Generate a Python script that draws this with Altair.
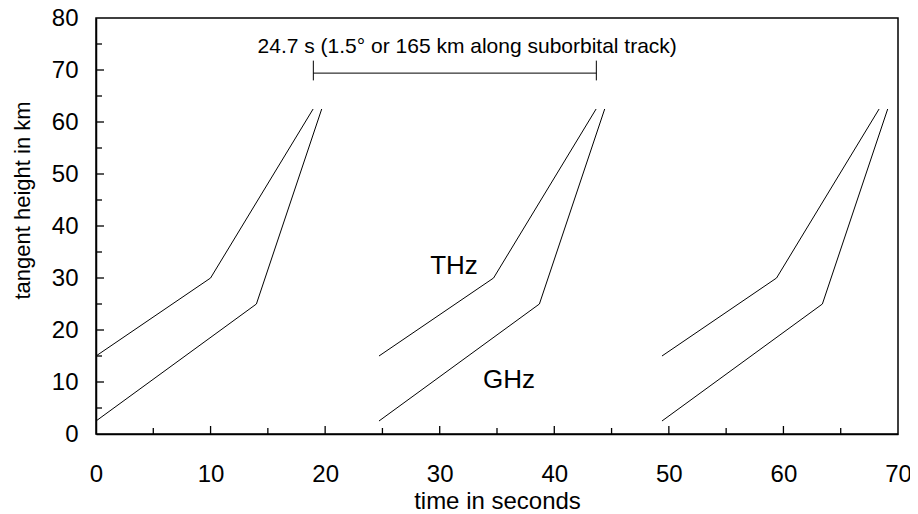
import altair as alt
import pandas as pd

# sweep line data (time s, tangent height km)
sweep = [1, 1, 1, 1, 1, 1, 2, 2, 2, 2, 2, 2, 3, 3, 3, 3, 3, 3]
band = ["THz", "THz", "THz", "GHz", "GHz", "GHz"] * 3
t_vals = [0.0, 10.0, 18.95, 0.0, 14.0, 19.7,
          24.7, 34.7, 43.65, 24.7, 38.7, 44.4,
          49.4, 59.4, 68.35, 49.4, 63.4, 69.1]
h_vals = [15.0, 30.0, 62.5, 2.5, 25.0, 62.5] * 3

# scale bar
bar_x = [18.97]
bar_x2 = [43.67]
bar_y = [69.4]
cap_x = [18.97, 43.67]
cap_y_lo = [68.0, 68.0]
cap_y_hi = [71.8, 71.8]
bar_text = ["24.7 s (1.5° or 165 km along suborbital track)"]
bar_text_x = [32.4]
bar_text_y = [73.2]

# band labels
lab_text = ["THz", "GHz"]
lab_x = [31.25, 36.05]
lab_y = [32.3, 10.3]

# ticks
x_major = [10, 20, 30, 40, 50, 60]
x_minor = [5, 15, 25, 35, 45, 55, 65]
y_major = [10, 20, 30, 40, 50, 60, 70]
y_minor = [5, 15, 25, 35, 45, 55, 65, 75]
x_labels = [0, 10, 20, 30, 40, 50, 60, 70]
y_labels = [0, 10, 20, 30, 40, 50, 60, 70, 80]

W, H = 802, 416
FONT = "Liberation Sans"

xs = alt.Scale(domain=[0, 70], nice=False, zero=False)
ys = alt.Scale(domain=[0, 80], nice=False, zero=False)

df = pd.DataFrame({"sweep": sweep, "band": band, "t": t_vals, "h": h_vals})

lines = alt.Chart(df).mark_line(color="black", strokeWidth=1).encode(
    x=alt.X("t:Q", scale=xs, axis=alt.Axis(values=x_labels, title="time in seconds",
                                            ticks=False, labelPadding=28, labelFlush=False,
                                            titleFontSize=24, titleY=74, titleBaseline="alphabetic")),
    y=alt.Y("h:Q", scale=ys, axis=alt.Axis(values=y_labels, title="tangent height in km",
                                            ticks=False, labelPadding=18, labelFlush=False,
                                            titleFontSize=22, titleX=-67, titleY=182,
                                            titleBaseline="alphabetic")),
    detail=["sweep:N", "band:N"],
    order=alt.Order("t:Q"),
)

bar = alt.Chart(pd.DataFrame({"x": bar_x, "x2": bar_x2, "y": bar_y})).mark_rule(
    color="black", strokeWidth=1).encode(x=alt.X("x:Q", scale=xs), x2="x2:Q", y=alt.Y("y:Q", scale=ys))
caps = alt.Chart(pd.DataFrame({"x": cap_x, "y": cap_y_lo, "y2": cap_y_hi})).mark_rule(
    color="black", strokeWidth=1).encode(x=alt.X("x:Q", scale=xs), y=alt.Y("y:Q", scale=ys), y2="y2:Q")
bar_lab = alt.Chart(pd.DataFrame({"x": bar_text_x, "y": bar_text_y, "s": bar_text})).mark_text(
    font=FONT, fontSize=21, color="black", baseline="alphabetic").encode(
    x=alt.X("x:Q", scale=xs), y=alt.Y("y:Q", scale=ys), text="s:N")
band_lab = alt.Chart(pd.DataFrame({"x": lab_x, "y": lab_y, "s": lab_text})).mark_text(
    font=FONT, fontSize=26, color="black", baseline="middle").encode(
    x=alt.X("x:Q", scale=xs), y=alt.Y("y:Q", scale=ys), text="s:N")

xt_major = alt.Chart(pd.DataFrame({"x": x_major})).mark_rule(color="black", strokeWidth=1.3).encode(
    x=alt.X("x:Q", scale=xs), y=alt.value(H), y2=alt.value(H - 8))
xt_minor = alt.Chart(pd.DataFrame({"x": x_minor})).mark_rule(color="black", strokeWidth=1.3).encode(
    x=alt.X("x:Q", scale=xs), y=alt.value(H), y2=alt.value(H - 6))
yt_major = alt.Chart(pd.DataFrame({"y": y_major})).mark_rule(color="black", strokeWidth=1.3).encode(
    y=alt.Y("y:Q", scale=ys), x=alt.value(0), x2=alt.value(8))
yt_minor = alt.Chart(pd.DataFrame({"y": y_minor})).mark_rule(color="black", strokeWidth=1.3).encode(
    y=alt.Y("y:Q", scale=ys), x=alt.value(0), x2=alt.value(6))

chart = alt.layer(lines, bar, caps, bar_lab, band_lab, xt_major, xt_minor, yt_major, yt_minor).properties(
    width=W, height=H, autosize="none",
    padding={"left": 88, "top": 10, "right": 12, "bottom": 78},
).configure(background="white").configure_view(stroke="black", strokeWidth=1.5).configure_axis(
    labelFont=FONT, titleFont=FONT, labelFontSize=24,
    labelColor="black", titleColor="black", domainColor="black", domainWidth=1.5,
    grid=False, titleFontWeight="normal",
)

chart.save("out.html", embed_options={"renderer": "svg", "actions": False})
